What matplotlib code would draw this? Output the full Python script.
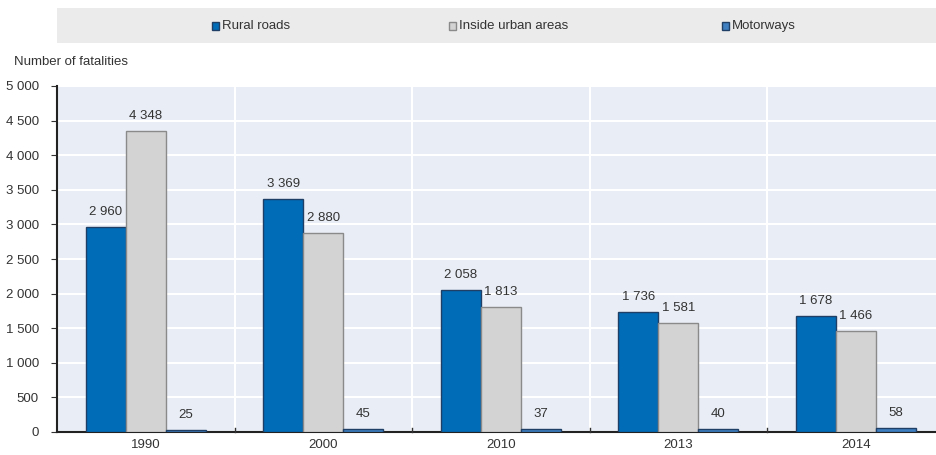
import numpy as np
import matplotlib.pyplot as plt
from matplotlib.patches import Rectangle

plt.rcParams['font.family'] = ['Liberation Sans', 'DejaVu Sans']

anos = ['1990', '2000', '2010', '2013', '2014']
rural = [2960, 3369, 2058, 1736, 1678]
urbano = [4348, 2880, 1813, 1581, 1466]
autoestrada = [25, 45, 37, 40, 58]
series = ['Rural roads', 'Inside urban areas', 'Motorways']

cor_texto = '#333333'
cores = ['#006bb6', '#d3d3d3', '#3d7fc0']
bordas = ['#1f3f66', '#8a8a8a', '#1f3f66']
tam = 9.5

def fmt(v):
	return '{:,}'.format(v).replace(',', ' ')

fig = plt.figure(figsize=(9.37, 4.55), dpi=100)
ax = fig.add_axes([57/937, 1-432/455, 880/937, 346/455])
ax.set_facecolor('#e9eef6')

x = np.arange(len(anos))
larg = 0.225
dados = [rural, urbano, autoestrada]
for i, vals in enumerate(dados):
	pos = x + (i-1)*larg
	ax.bar(pos, vals, larg, color=cores[i], edgecolor=bordas[i], linewidth=1, zorder=3)
	for p, v in zip(pos, vals):
		ax.text(p, v + 130, fmt(v), ha='center', va='bottom', fontsize=tam, color=cor_texto, zorder=4)

ax.set_xlim(-0.5, -0.5 + 880/177.5)
ax.set_ylim(0, 5000)
ax.set_yticks(np.arange(0, 5001, 500))
ax.set_yticklabels([fmt(v) for v in range(0, 5001, 500)], fontsize=tam, color=cor_texto)
ax.yaxis.grid(True, color='white', linewidth=1.5, zorder=0)
for b in np.arange(0.5, len(anos)-0.5, 1):
	ax.axvline(b, color='white', linewidth=1.5, zorder=0)
ax.set_xticks(x)
ax.set_xticklabels(anos, fontsize=tam, color=cor_texto)
ax.tick_params(axis='x', length=0, pad=5)
ax.tick_params(axis='y', length=4, direction='out', color=cor_texto, pad=9)
# pequenas marcas entre categorias
for b in np.arange(0.5, len(anos)-0.5, 1):
	ax.plot([b, b], [0, 60], color=cor_texto, linewidth=1, zorder=5, clip_on=False)
for s in ['top', 'right']:
	ax.spines[s].set_visible(False)
ax.spines['left'].set_color('#222222')
ax.spines['left'].set_linewidth(1.5)
ax.spines['bottom'].set_color('#222222')
ax.spines['bottom'].set_linewidth(1.5)

fig.text(14/937, 1-62/455, 'Number of fatalities', fontsize=tam, color=cor_texto, va='center')

# faixa da legenda
fig.patches.append(Rectangle((57/937, 1-43/455), 880/937, 35/455, transform=fig.transFigure,
	facecolor='#ebebeb', edgecolor='none', zorder=0))
leg_x = [212, 449, 722]
for i, nome in enumerate(series):
	fig.patches.append(Rectangle((leg_x[i]/937, 1-30/455), 7/937, 8/455, transform=fig.transFigure,
		facecolor=cores[i], edgecolor=bordas[i], linewidth=1))
	fig.text((leg_x[i]+10)/937, 1-26/455, nome, fontsize=tam, color=cor_texto, va='center')

fig.savefig('out.png', dpi=100)
